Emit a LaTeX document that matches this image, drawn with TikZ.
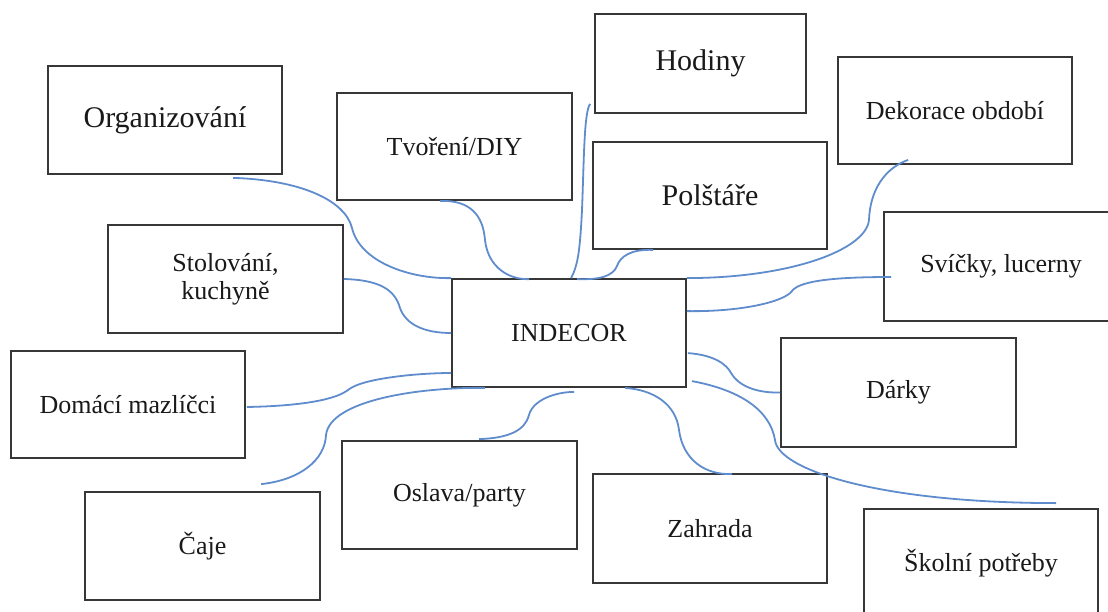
\documentclass[tikz,border=0pt]{standalone}
\usepackage{fontspec}
\setmainfont{Liberation Serif}
\usetikzlibrary{calc}
\definecolor{conn}{RGB}{95,140,205}
\definecolor{edgegray}{RGB}{55,55,55}
\tikzset{
  box/.style={draw=edgegray, line width=1.8pt, minimum width=234pt, minimum height=108pt,
    inner sep=0pt, align=center, font=\fontsize{26}{28}\selectfont, text=black!90},
  bigtext/.style={font=\fontsize{30}{32}\selectfont},
  link/.style={draw=conn, line width=1.8pt},
}
\begin{document}
\begin{tikzpicture}[x=1pt,y=-1pt]
\clip (0,0) rectangle (1108,612);
% boxes
\node[box,bigtext] (org) at (165,120) {Organizování};
\node[box, minimum width=235pt, minimum height=107pt] (tvo) at (454.5,146.5) {Tvoření/DIY};
\node[box,bigtext, minimum width=211pt, minimum height=99pt] (hod) at (700.5,63.5) {Hodiny};
\node[box,bigtext, minimum height=107pt] (pol) at (710,195.5) {Polštáře};
\node[box, minimum height=107pt] (dek) at (955,110.5) {Dekorace období};
\node[box, minimum width=235pt] (sto) at (225.5,279) {Stolování,\\kuchyně};
\node[box] (ind) at (569,333) {INDECOR};
\node[box, minimum height=109pt] (svi) at (1001,266.5) {Svíčky, lucerny};
\node[box, minimum height=107pt] (dom) at (128,404.5) {Domácí mazlíčci};
\node[box, minimum width=235pt, minimum height=109pt] (dar) at (898.5,392.5) {Dárky};
\node[box, minimum width=235pt] (osl) at (459.5,495) {Oslava/party};
\node[box, minimum width=235pt] (caj) at (202.5,546) {Čaje};
\node[box, minimum height=109pt] (zah) at (710,528.5) {Zahrada};
\node[box] (sko) at (981,563) {Školní potřeby};
% connectors
\draw[link] ($(org.south west)+(186,3)$) .. controls (300,180) and (345,200) .. (352,228)
  .. controls (360,262) and (410,279) .. (ind.north west);
\draw[link] ($(tvo.south west)+(104,0)$) .. controls (470,200) and (483,215) .. (485,240)
  .. controls (488,268) and (510,280) .. ($(ind.north west)+(78,1)$);
\draw[link] ($(hod.south west)+(-4,-10)$) .. controls (584,112) and (584,160) .. (582,210)
  .. controls (580,250) and (578,265) .. ($(ind.north west)+(120,0)$);
\draw[link] ($(pol.south west)+(61,0)$) .. controls (630,249) and (620,257) .. (617,266)
  .. controls (613,276) and (600,280) .. ($(ind.north west)+(126,1)$);
\draw[link] ($(dek.south west)+(71,-5)$) .. controls (885,168) and (870,190) .. (869,220)
  .. controls (866,250) and (790,278) .. (ind.north east);
\draw[link] ($(svi.west)+(8,10.5)$) .. controls (840,277) and (800,280) .. (792,291)
  .. controls (784,302) and (740,312) .. ($(ind.north east)+(0,33)$);
\draw[link] (sto.east) .. controls (380,280) and (395,290) .. (400,308)
  .. controls (406,325) and (425,333) .. (ind.west);
\draw[link] ($(dom.east)+(1,2.5)$) .. controls (300,406) and (335,400) .. (348,390)
  .. controls (362,378) and (420,373) .. ($(ind.west)+(0,40)$);
\draw[link] ($(caj.north west)+(177,-7)$) .. controls (300,480) and (325,460) .. (326,435)
  .. controls (330,400) and (420,387) .. ($(ind.south west)+(34,0)$);
\draw[link] ($(osl.north west)+(138,-1)$) .. controls (510,438) and (525,430) .. (529,415)
  .. controls (533,400) and (555,392) .. ($(ind.south west)+(123,4)$);
\draw[link] ($(ind.south west)+(174,0)$) .. controls (655,390) and (676,405) .. (679,430)
  .. controls (683,460) and (705,475) .. ($(zah.north west)+(140,1)$);
\draw[link] ($(ind.north east)+(1,75)$) .. controls (715,355) and (727,365) .. (731,373)
  .. controls (740,388) and (760,393) .. (dar.west);
\draw[link] ($(ind.north east)+(5,103)$) .. controls (740,390) and (770,410) .. (775,440)
  .. controls (778,470) and (880,503) .. ($(sko.north west)+(193,-5)$);
\end{tikzpicture}
\end{document}
